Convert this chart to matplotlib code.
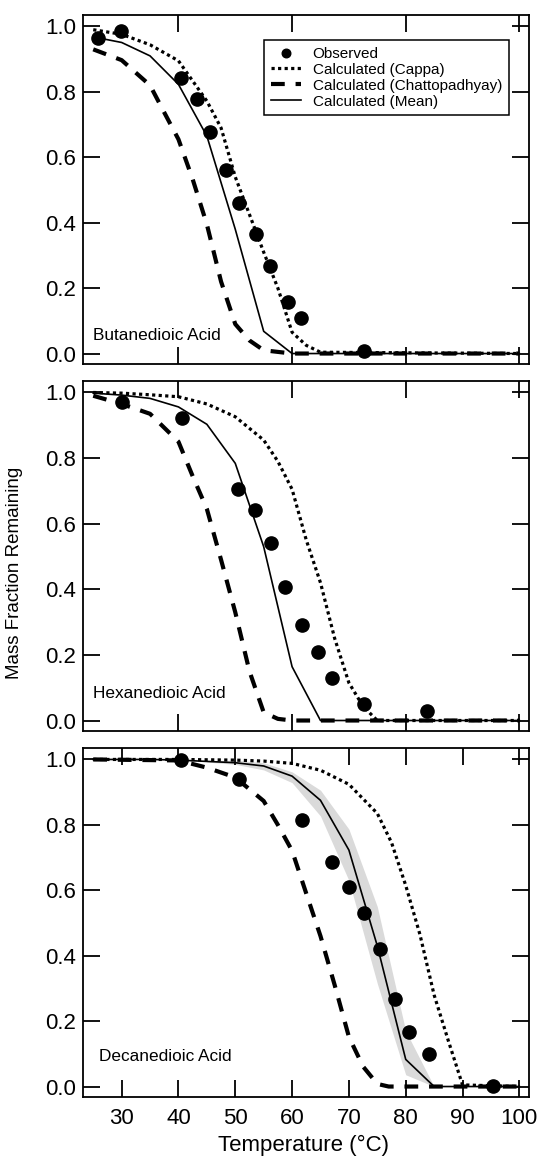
import numpy as np
import matplotlib
matplotlib.use("Agg")
import matplotlib.pyplot as plt

plt.rcParams['font.family'] = ['Liberation Sans', 'DejaVu Sans']

# Butanedioic acid
but_obs_T = [25.9, 29.9, 40.4, 43.3, 45.6, 48.3, 50.7, 53.6, 56.2, 59.2, 61.6, 72.7]
but_obs_y = [0.966, 0.987, 0.841, 0.778, 0.678, 0.561, 0.459, 0.364, 0.269, 0.159, 0.109, 0.007]
but_mean_T = [25, 30, 35, 40, 45, 50, 55, 60, 100]
but_mean_y = [0.968, 0.951, 0.910, 0.823, 0.665, 0.38, 0.068, 0.0, 0.0]
but_cappa_T = [25, 30, 35, 40, 45, 47.5, 50, 52.5, 55, 57.5, 60, 62.5, 65, 100]
but_cappa_y = [0.99, 0.976, 0.944, 0.895, 0.772, 0.69, 0.54, 0.425, 0.31, 0.2, 0.065, 0.025, 0.004, 0.0]
but_chat_T = [25, 30, 35, 37.5, 40, 42.5, 45, 47.5, 50, 52.5, 55, 60, 100]
but_chat_y = [0.93, 0.897, 0.82, 0.737, 0.655, 0.533, 0.395, 0.22, 0.09, 0.04, 0.01, 0.0, 0.0]

# Hexanedioic acid
hex_obs_T = [30.0, 40.6, 50.5, 53.5, 56.3, 58.8, 61.8, 64.5, 67.1, 72.7, 83.7]
hex_obs_y = [0.970, 0.922, 0.706, 0.643, 0.540, 0.406, 0.292, 0.208, 0.129, 0.051, 0.030]
hex_mean_T = [25, 30, 35, 40, 45, 50, 55, 60, 65, 100]
hex_mean_y = [0.998, 0.992, 0.982, 0.956, 0.903, 0.784, 0.53, 0.164, 0.0, 0.0]
hex_cappa_T = [25, 30, 35, 40, 45, 50, 55, 57.5, 60, 62.5, 65, 67.5, 70, 72.5, 75, 100]
hex_cappa_y = [1.0, 0.998, 0.993, 0.987, 0.965, 0.926, 0.855, 0.79, 0.705, 0.55, 0.42, 0.25, 0.115, 0.043, 0.0, 0.0]
hex_chat_T = [25, 30, 35, 40, 42.5, 45, 47.5, 50, 52.5, 55, 57.5, 60, 100]
hex_chat_y = [0.99, 0.965, 0.935, 0.85, 0.745, 0.645, 0.49, 0.33, 0.15, 0.025, 0.005, 0.0, 0.0]

# Decanedioic acid
dec_obs_T = [40.4, 50.7, 61.8, 67.0, 70.0, 72.7, 75.5, 78.2, 80.6, 84.1, 95.3]
dec_obs_y = [0.997, 0.939, 0.814, 0.685, 0.609, 0.530, 0.421, 0.269, 0.168, 0.099, 0.002]
dec_mean_T = [25, 30, 35, 40, 45, 50, 55, 60, 65, 70, 75, 80, 85, 100]
dec_mean_y = [1.0, 1.0, 1.0, 0.998, 0.994, 0.99, 0.98, 0.949, 0.875, 0.723, 0.43, 0.083, 0.0, 0.0]
dec_band_T = [45, 50, 55, 60, 65, 70, 75, 80, 85]
dec_band_hi = [0.996, 0.998, 0.99, 0.962, 0.906, 0.787, 0.55, 0.17, 0.0]
dec_band_lo = [0.992, 0.985, 0.968, 0.929, 0.827, 0.63, 0.315, 0.036, 0.0]
dec_cappa_T = [25, 40, 50, 55, 60, 65, 70, 75, 77.5, 80, 82.5, 85, 87.5, 90, 100]
dec_cappa_y = [1.0, 1.0, 0.998, 0.995, 0.988, 0.967, 0.924, 0.835, 0.746, 0.615, 0.465, 0.28, 0.14, 0.005, 0.0]
dec_chat_T = [25, 40, 45, 50, 55, 57.5, 60, 62.5, 65, 67.5, 70, 72.5, 75, 77, 100]
dec_chat_y = [1.0, 0.997, 0.975, 0.945, 0.873, 0.80, 0.721, 0.59, 0.46, 0.31, 0.152, 0.061, 0.008, 0.0, 0.0]

panel_names = ["Butanedioic Acid", "Hexanedioic Acid", "Decanedioic Acid"]
name_pos = [(25.0, 0.055), (25.0, 0.081), (26.0, 0.093)]

W, H = 539, 1157
fig = plt.figure(figsize=(W / 100, H / 100), dpi=100)

# axes boxes in pixels: (top, bottom)
boxes = [(15, 364), (381, 731), (748, 1097)]
left_px, right_px = 83, 529

data = [
    (but_obs_T, but_obs_y, but_mean_T, but_mean_y, but_cappa_T, but_cappa_y, but_chat_T, but_chat_y),
    (hex_obs_T, hex_obs_y, hex_mean_T, hex_mean_y, hex_cappa_T, hex_cappa_y, hex_chat_T, hex_chat_y),
    (dec_obs_T, dec_obs_y, dec_mean_T, dec_mean_y, dec_cappa_T, dec_cappa_y, dec_chat_T, dec_chat_y),
]

axes = []
for i, (top, bot) in enumerate(boxes):
    ax = fig.add_axes([left_px / W, 1 - bot / H, (right_px - left_px) / W, (bot - top) / H])
    axes.append(ax)
    obs_T, obs_y, mean_T, mean_y, cap_T, cap_y, cha_T, cha_y = data[i]

    if i == 2:
        ax.fill_between(dec_band_T, dec_band_lo, dec_band_hi, color='#dadada', lw=0, zorder=1)

    ax.plot(cap_T, cap_y, color='black', lw=2.3, linestyle=(0, (1, 1.05)),
            label='Calculated (Cappa)', zorder=2)
    ax.plot(cha_T, cha_y, color='black', lw=3.0, linestyle=(0, (3.3, 2.6)),
            label='Calculated (Chattopadhyay)', zorder=2)
    ax.plot(mean_T, mean_y, color='black', lw=1.2, label='Calculated (Mean)', zorder=3)
    ax.plot(obs_T, obs_y, 'o', color='black', ms=9.5, label='Observed', zorder=4)

    ax.set_xlim(23.2, 101.7)
    ax.set_ylim(-0.032, 1.035)
    ax.set_yticks([0.0, 0.2, 0.4, 0.6, 0.8, 1.0])
    ax.set_yticklabels(['0.0', '0.2', '0.4', '0.6', '0.8', '1.0'])
    if i == 2:
        ax.set_xticks(np.arange(30, 101, 10))
    else:
        ax.set_xticks([40, 60, 80, 100])
        ax.tick_params(labelbottom=False)
    ax.tick_params(direction='in', length=12, width=1.3, top=True, right=True,
                   labelsize=16, pad=5)
    ax.tick_params(axis='x', pad=8)
    for s in ax.spines.values():
        s.set_linewidth(1.3)

    ax.text(name_pos[i][0], name_pos[i][1], panel_names[i], fontsize=12.4,
            va='center', ha='left')

# legend on top panel
h, l = axes[0].get_legend_handles_labels()
order = [3, 0, 1, 2]
leg = axes[0].legend([h[k] for k in order], [l[k] for k in order],
                     loc='upper right', bbox_to_anchor=(0.955, 0.928),
                     fontsize=11, frameon=True, fancybox=False, markerscale=0.65,
                     handlelength=2.0, handletextpad=0.75, labelspacing=0.12,
                     borderpad=0.45, borderaxespad=0)
leg.get_frame().set_edgecolor('black')
leg.get_frame().set_linewidth(1.1)
leg.get_frame().set_alpha(1)

fig.text(15 / W, 1 - 573 / H, 'Mass Fraction Remaining', rotation=90,
         fontsize=13.5, va='center', ha='center')
fig.text(303 / W, 1 - 1145 / H, 'Temperature (°C)', fontsize=16,
         va='center', ha='center')

fig.savefig('out.png', dpi=100)
